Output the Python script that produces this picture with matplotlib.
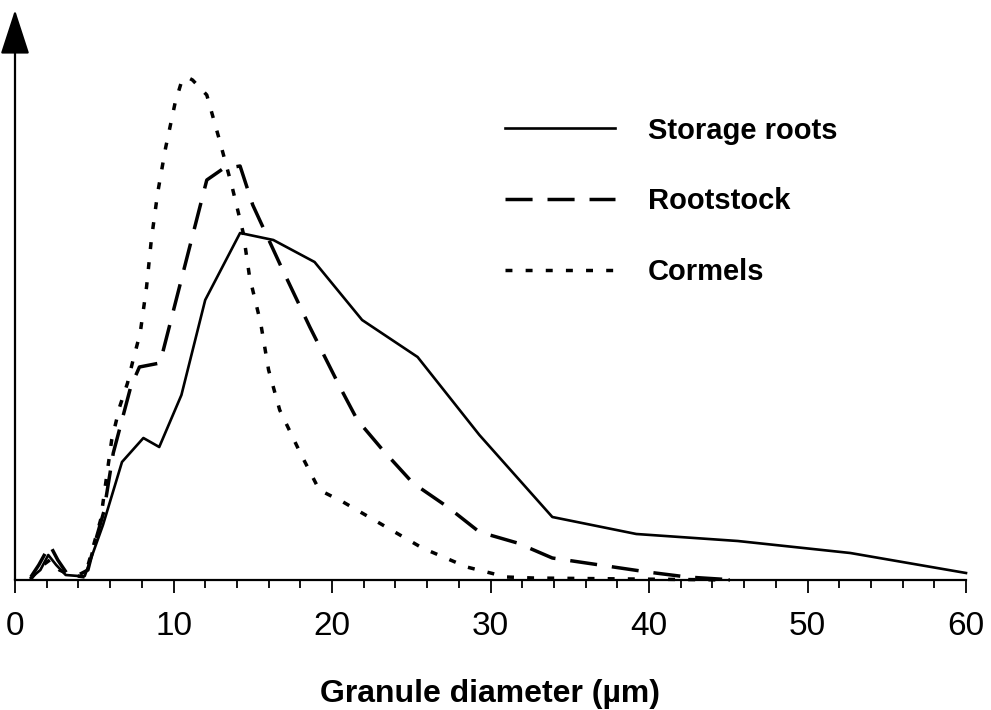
import matplotlib
matplotlib.use("Agg")
import matplotlib.pyplot as plt
from matplotlib.ticker import MultipleLocator

# granule diameter (um) vs relative frequency
storage_x = [1.0, 1.6, 2.1, 2.6, 3.2, 4.0, 4.4, 5.55, 6.75, 8.1, 9.1, 10.5, 12.0, 14.2,
             16.3, 18.9, 21.9, 25.4, 29.3, 33.9, 39.2, 45.6, 52.7, 60.0]
storage_y = [0.4, 2.0, 5.0, 3.0, 1.0, 0.8, 0.8, 11.0, 23.6, 28.4, 26.6, 37.0, 56.0, 69.4,
             68.0, 63.6, 52.0, 44.6, 29.0, 12.6, 9.2, 7.8, 5.4, 1.4]

rootstock_x = [1.0, 1.5, 2.2, 2.7, 3.3, 4.0, 4.6, 5.0, 5.6, 6.2, 7.3, 7.85, 9.15, 12.1,
               13.1, 14.2, 15.0, 16.8, 18.6, 20.5, 21.6, 23.2, 25.1, 27.3, 29.3, 31.7,
               33.9, 36.9, 39.9, 42.4, 45.4]
rootstock_y = [0.6, 3.0, 7.0, 4.0, 1.2, 1.0, 2.0, 7.0, 13.6, 25.4, 38.6, 42.6, 43.4, 80.0,
               82.2, 82.8, 75.0, 62.6, 50.6, 38.6, 32.0, 26.0, 19.4, 14.6, 9.6, 7.4,
               4.4, 3.0, 1.6, 0.6, 0.0]

cormels_x = [1.0, 1.6, 2.2, 2.8, 3.5, 4.4, 5.4, 6.1, 6.6, 7.1, 7.45, 7.9, 8.3, 8.6, 9.0,
             9.5, 10.1, 10.5, 10.85, 11.2, 12.1, 12.9, 13.7, 14.4, 14.8, 15.5, 16.0,
             16.7, 18.0, 19.2, 20.7, 23.2, 25.7, 28.5, 31.0, 32.7, 45.1]
cormels_y = [0.2, 2.6, 4.0, 2.0, 1.0, 0.6, 12.0, 28.0, 34.6, 39.4, 44.0, 49.4, 58.6, 68.0,
             77.4, 86.4, 95.4, 99.6, 100.6, 100.0, 97.0, 88.0, 78.6, 69.4, 60.6, 51.4,
             42.0, 34.0, 25.4, 18.0, 15.6, 11.0, 6.4, 2.6, 0.6, 0.4, 0.0]

labels = ["Storage roots", "Rootstock", "Cormels"]
xlabel = "Granule diameter (\u00b5m)"

plt.rcParams["font.family"] = ["Liberation Sans", "DejaVu Sans"]

fig = plt.figure(figsize=(9.91, 7.10), dpi=100)
ax = fig.add_axes([15 / 991, 1 - 580 / 710, 951 / 991, 570 / 710])

ax.plot(storage_x, storage_y, color="black", lw=1.9, label=labels[0], clip_on=False)
ax.plot(rootstock_x, rootstock_y, color="black", lw=2.5, dashes=(7.8, 4.3),
        label=labels[1], clip_on=False)
ax.plot(cormels_x, cormels_y, color="black", lw=2.5, dashes=(2.0, 3.8),
        label=labels[2], clip_on=False)

ax.set_xlim(0, 60)
ax.set_ylim(0, 114)
for s in ["top", "right", "left"]:
    ax.spines[s].set_visible(False)
ax.spines["bottom"].set_linewidth(1.6)
ax.set_yticks([])

ax.xaxis.set_major_locator(MultipleLocator(10))
ax.xaxis.set_minor_locator(MultipleLocator(2))
ax.tick_params(axis="x", which="major", direction="out", length=9, width=1.3,
               labelsize=24, pad=13)
ax.tick_params(axis="x", which="minor", direction="out", length=6, width=1.3)

# y axis drawn as an arrow
ax.annotate("", xy=(0, 1), xycoords="axes fraction", xytext=(0, 0),
            arrowprops=dict(arrowstyle="-|>,head_length=2.0,head_width=0.65",
                            mutation_scale=14, lw=1.6, color="black",
                            shrinkA=0, shrinkB=0))

ax.set_xlabel(xlabel, fontsize=23, fontweight="bold", labelpad=27)

leg = ax.legend(loc="upper left", bbox_to_anchor=(490 / 991, 1 - 102 / 710),
                bbox_transform=fig.transFigure, frameon=False, borderpad=0,
                handlelength=3.8, handletextpad=1.1, labelspacing=1.47,
                prop=dict(weight="bold", size=21))

fig.savefig("out.png", dpi=100)
